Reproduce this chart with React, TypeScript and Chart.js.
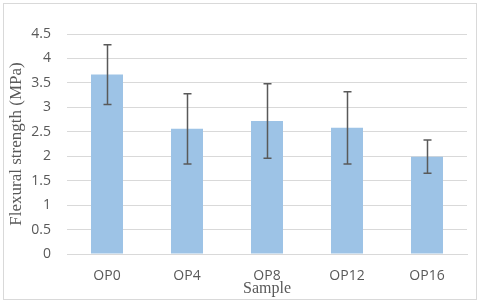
import React, { useEffect, useRef } from "react";
import { Chart, registerables } from "chart.js";

Chart.register(...registerables);

const categories = ["OP0", "OP4", "OP8", "OP12", "OP16"];
const strengthValues = [3.67, 2.56, 2.72, 2.58, 1.99];
const errorValues = [0.61, 0.72, 0.76, 0.74, 0.34];
const yTickMax = 4.5;
const yTickStep = 0.5;

const errorBarPlugin = {
  id: "errorBars",
  afterDatasetsDraw(chart: any) {
    const ctx = chart.ctx;
    const meta = chart.getDatasetMeta(0);
    const yScale = chart.scales.y;
    ctx.save();
    ctx.strokeStyle = "#595959";
    ctx.lineWidth = 1.5;
    meta.data.forEach((bar: any, i: number) => {
      const v = strengthValues[i];
      const e = errorValues[i];
      const x = Math.round(bar.x) + 0.5;
      const yTop = yScale.getPixelForValue(v + e);
      const yBot = yScale.getPixelForValue(v - e);
      const cap = 4;
      ctx.beginPath();
      ctx.moveTo(x, yTop);
      ctx.lineTo(x, yBot);
      ctx.moveTo(x - cap, yTop);
      ctx.lineTo(x + cap, yTop);
      ctx.moveTo(x - cap, yBot);
      ctx.lineTo(x + cap, yBot);
      ctx.stroke();
    });
    ctx.restore();
  },
};

const borderPlugin = {
  id: "outerBorder",
  beforeDraw(chart: any) {
    const ctx = chart.ctx;
    ctx.save();
    ctx.fillStyle = "#ffffff";
    ctx.fillRect(0, 0, chart.width, chart.height);
    ctx.strokeStyle = "#d9d9d9";
    ctx.lineWidth = 1;
    ctx.strokeRect(3.5, 3.5, chart.width - 7, chart.height - 8);
    ctx.restore();
  },
};

export default function App() {
  const canvasRef = useRef<HTMLCanvasElement | null>(null);

  useEffect(() => {
    document.body.style.margin = "0";
    const canvas = canvasRef.current;
    if (!canvas) return;
    const chart = new Chart(canvas, {
      type: "bar",
      data: {
        labels: categories,
        datasets: [
          {
            data: strengthValues,
            backgroundColor: "#9dc3e6",
            borderWidth: 0,
            categoryPercentage: 1,
            barPercentage: 0.4,
          },
        ],
      },
      options: {
        animation: false,
        responsive: false,
        maintainAspectRatio: false,
        layout: { padding: { top: 34, right: 13, left: 0, bottom: 0 } },
        plugins: {
          legend: { display: false },
          tooltip: { enabled: false },
        },
        scales: {
          x: {
            grid: { display: false, drawTicks: false },
            border: { display: true, color: "#d9d9d9", width: 1 },
            ticks: {
              color: "#595959",
              font: { family: "Open Sans", size: 14 },
              padding: 14,
              maxRotation: 0,
            },
            title: {
              display: true,
              text: "Sample",
              color: "#595959",
              font: { family: "Liberation Serif", size: 16 },
              padding: { top: 0, bottom: 6 },
            },
            afterFit(scale: any) {
              scale.height = 50;
            },
          },
          y: {
            min: 0,
            max: yTickMax,
            ticks: {
              stepSize: yTickStep,
              color: "#595959",
              font: { family: "Open Sans", size: 14 },
              padding: 16,
              callback: (v: any) => String(Number(v)),
            },
            grid: { color: "#d9d9d9", lineWidth: 1, drawTicks: false },
            border: { display: false },
            title: {
              display: true,
              text: "Flexural strength (MPa)",
              color: "#595959",
              font: { family: "Liberation Serif", size: 17 },
              padding: { top: 6, bottom: 0 },
            },
            afterFit(scale: any) {
              scale.width = 67;
            },
          },
        },
      },
      plugins: [borderPlugin, errorBarPlugin],
    });
    return () => chart.destroy();
  }, []);

  return <canvas ref={canvasRef} width={480} height={304} style={{ display: "block" }} />;
}
